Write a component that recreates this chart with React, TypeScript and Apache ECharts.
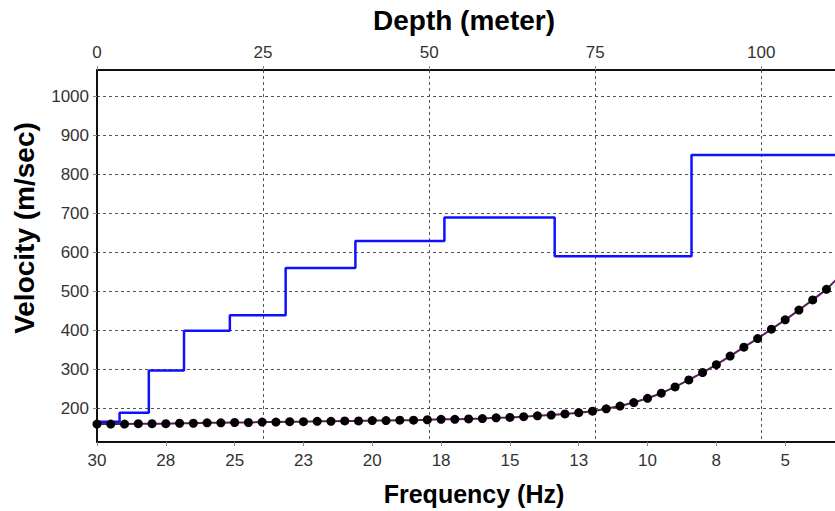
import React, { useEffect, useRef } from "react";
import * as echarts from "echarts";

// Velocity profile (layer top depth in m, shear velocity in m/s)
const layerDepth = [0, 3.4, 7.8, 13.1, 20.0, 28.4, 38.9, 52.3, 68.9, 89.5, 115];
const layerVelocity = [166, 189, 297, 399, 439, 560, 629, 689, 590, 849, 849];

// Dispersion curve (frequency in Hz, phase velocity in m/s)
const frequency = [
  30, 29.5, 29, 28.5, 28, 27.5, 27, 26.5, 26, 25.5, 25, 24.5, 24, 23.5, 23, 22.5,
  22, 21.5, 21, 20.5, 20, 19.5, 19, 18.5, 18, 17.5, 17, 16.5, 16, 15.5, 15, 14.5,
  14, 13.5, 13, 12.5, 12, 11.5, 11, 10.5, 10, 9.5, 9, 8.5, 8, 7.5, 7, 6.5, 6, 5.5,
  5, 4.5, 4, 3.5, 3,
];
const phaseVelocity = [
  160, 160, 160, 161, 161, 161, 162, 162, 163, 163, 164, 164, 165, 165, 166, 166,
  167, 167, 168, 168, 169, 169, 170, 170, 171, 172, 172, 173, 174, 176, 177, 179,
  181, 183, 186, 189, 193, 199, 206, 215, 226, 239, 255, 273, 292, 312, 334, 357,
  379, 403, 427, 452, 478, 505, 540,
];

const depthTicks = [0, 25, 50, 75, 100];
const frequencyTicks = [30, 27.5, 25, 22.5, 20, 17.5, 15, 12.5, 10, 7.5, 5];
const velocityTicks = [200, 300, 400, 500, 600, 700, 800, 900, 1000];

const FONT = "'Liberation Sans', Arial, sans-serif";

export default function App() {
  const ref = useRef<HTMLDivElement>(null);

  useEffect(() => {
    if (!ref.current) return;
    const chart = echarts.init(ref.current, null, { renderer: "svg" });

    const axisLine = { show: true, lineStyle: { color: "#111", width: 2 } };
    const axisTick = { show: true, length: 4, lineStyle: { color: "#888", width: 1 } };
    const labelStyle = { color: "#333", fontSize: 17, fontFamily: FONT };
    const split = { show: true, lineStyle: { color: "#555", width: 1, type: [3, 3] } };

    chart.setOption({
      animation: false,
      backgroundColor: "#fff",
      grid: { left: 97, right: 0, top: 70, bottom: 69, containLabel: false },
      xAxis: [
        {
          type: "value",
          position: "top",
          min: 0,
          max: 111.1,
          interval: 25,
          axisLine,
          axisTick: { ...axisTick, customValues: depthTicks },
          axisLabel: { ...labelStyle, margin: 9, customValues: depthTicks },
          splitLine: split,
        },
        {
          type: "value",
          position: "bottom",
          inverse: true,
          min: 3.19,
          max: 30,
          axisLine,
          axisTick: { ...axisTick, customValues: frequencyTicks },
          axisLabel: {
            ...labelStyle,
            margin: 10,
            customValues: frequencyTicks,
            formatter: (v: number) => String(Math.round(v)),
          },
          splitLine: { show: false },
        },
      ],
      yAxis: {
        type: "value",
        min: 114,
        max: 1067,
        axisLine,
        axisTick: { ...axisTick, customValues: velocityTicks },
        axisLabel: {
          ...labelStyle,
          margin: 8,
          customValues: velocityTicks,
          formatter: (v: number) => String(Math.round(v)),
        },
        splitLine: split,
      },
      graphic: [
        {
          type: "text",
          x: 464,
          y: 20,
          style: {
            text: "Depth (meter)",
            font: `bold 28px ${FONT}`,
            fill: "#000",
            align: "center",
            verticalAlign: "middle",
          },
        },
        {
          type: "text",
          x: 474,
          y: 494,
          style: {
            text: "Frequency (Hz)",
            font: `bold 25px ${FONT}`,
            fill: "#000",
            align: "center",
            verticalAlign: "middle",
          },
        },
        {
          type: "text",
          x: 24,
          y: 228,
          rotation: Math.PI / 2,
          style: {
            text: "Velocity (m/sec)",
            font: `bold 28px ${FONT}`,
            fill: "#000",
            align: "center",
            verticalAlign: "middle",
          },
        },
      ],
      series: [
        {
          type: "line",
          xAxisIndex: 0,
          step: "end",
          data: layerDepth.map((d, i) => [d, layerVelocity[i]]),
          symbol: "none",
          lineStyle: { color: "#1010ff", width: 2.5 },
          z: 3,
        },
        {
          type: "line",
          xAxisIndex: 1,
          data: frequency.map((f, i) => [f, phaseVelocity[i]]),
          symbol: "circle",
          symbolSize: 9,
          itemStyle: { color: "#000" },
          lineStyle: { color: "#5a1d5a", width: 2 },
          z: 4,
        },
      ],
    });

    return () => chart.dispose();
  }, []);

  return (
    <div
      ref={ref}
      style={{ position: "absolute", left: 0, top: 0, width: 835, height: 511 }}
    />
  );
}
